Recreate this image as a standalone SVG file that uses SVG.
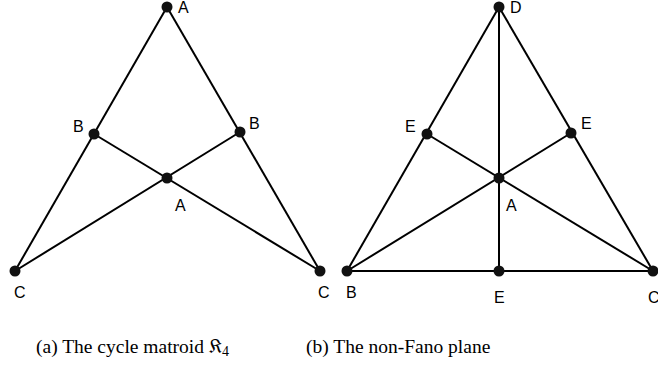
<svg xmlns="http://www.w3.org/2000/svg" width="658" height="372" viewBox="0 0 658 372">
<style>
.e{stroke:#000;stroke-width:2;fill:none}
.n{fill:#111}
.l{font-family:"Liberation Sans",Arial,sans-serif;font-size:16px;fill:#000}
.c{font-family:"Liberation Serif","DejaVu Serif",serif;font-size:19.5px;fill:#000}
</style>
<rect width="658" height="372" fill="#fff"/>
<g id="connectors">
<line class="e" x1="167" y1="7" x2="15" y2="271"/>
<line class="e" x1="167" y1="7" x2="320" y2="271"/>
<line class="e" x1="94" y1="134" x2="320" y2="271"/>
<line class="e" x1="240" y1="132" x2="15" y2="271"/>
<line class="e" x1="499" y1="7" x2="347" y2="271"/>
<line class="e" x1="499" y1="7" x2="653" y2="271"/>
<line class="e" x1="499" y1="7" x2="499" y2="271"/>
<line class="e" x1="347" y1="271" x2="653" y2="271"/>
<line class="e" x1="427" y1="134" x2="653" y2="271"/>
<line class="e" x1="571" y1="133" x2="347" y2="271"/>
</g>
<g id="left-A-top"><circle class="n" cx="167" cy="7" r="5.5"/><text class="l" x="178" y="13">A</text></g>
<g id="left-B-left"><circle class="n" cx="94" cy="134" r="5.5"/><text class="l" x="73" y="132">B</text></g>
<g id="left-B-right"><circle class="n" cx="240" cy="132" r="5.5"/><text class="l" x="249" y="129">B</text></g>
<g id="left-A-center"><circle class="n" cx="167" cy="178" r="5.5"/><text class="l" x="175" y="211">A</text></g>
<g id="left-C-left"><circle class="n" cx="15" cy="271" r="5.5"/><text class="l" x="14" y="298">C</text></g>
<g id="left-C-right"><circle class="n" cx="320" cy="271" r="5.5"/><text class="l" x="318" y="298">C</text></g>
<g id="right-D"><circle class="n" cx="499" cy="7" r="5.5"/><text class="l" x="510" y="13">D</text></g>
<g id="right-E-left"><circle class="n" cx="427" cy="134" r="5.5"/><text class="l" x="405" y="132">E</text></g>
<g id="right-E-right"><circle class="n" cx="571" cy="133" r="5.5"/><text class="l" x="581" y="129">E</text></g>
<g id="right-A-center"><circle class="n" cx="499" cy="178" r="5.5"/><text class="l" x="506" y="211">A</text></g>
<g id="right-B"><circle class="n" cx="347" cy="271" r="5.5"/><text class="l" x="346" y="298">B</text></g>
<g id="right-E-bottom"><circle class="n" cx="499" cy="271" r="5.5"/><text class="l" x="494" y="303">E</text></g>
<g id="right-C"><circle class="n" cx="653" cy="271" r="5.5"/><text class="l" x="648" y="303">C</text></g>
<text class="c" x="36" y="353">(a) The cycle matroid <tspan font-family="DejaVu Serif,serif">𝔎</tspan><tspan font-size="14" dy="3">4</tspan></text>
<text class="c" x="306" y="353">(b) The non-Fano plane</text>
</svg>
